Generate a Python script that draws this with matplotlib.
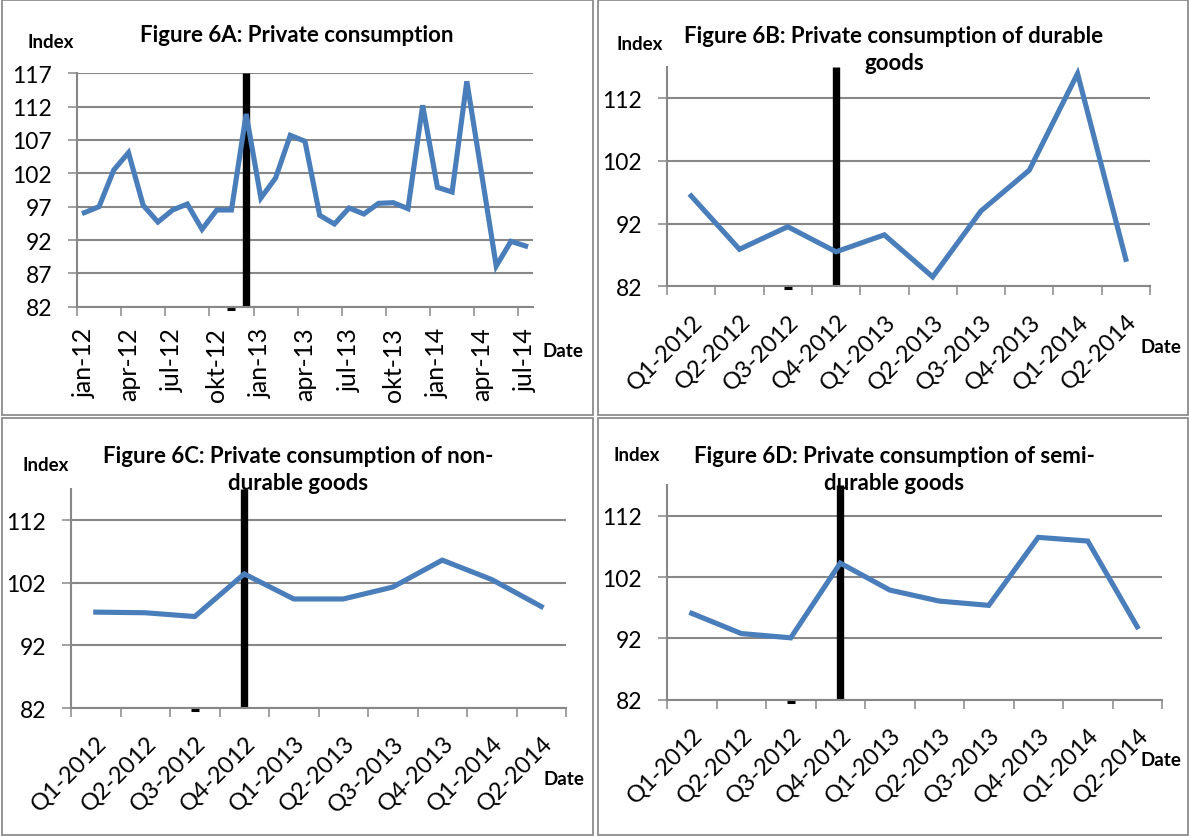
import matplotlib

matplotlib.use("Agg")
import matplotlib.pyplot as plt
from matplotlib.patches import Rectangle
from matplotlib.transforms import ScaledTranslation

plt.rcParams["font.family"] = ["Lato", "DejaVu Sans"]

W, H = 1189, 837
BLUE = "#4a7ebb"
GREY = "#878787"

months = [
    "jan-12", "feb-12", "mar-12", "apr-12", "maj-12", "jun-12", "jul-12", "aug-12",
    "sep-12", "okt-12", "nov-12", "dec-12", "jan-13", "feb-13", "mar-13", "apr-13",
    "maj-13", "jun-13", "jul-13", "aug-13", "sep-13", "okt-13", "nov-13", "dec-13",
    "jan-14", "feb-14", "mar-14", "apr-14", "maj-14", "jun-14", "jul-14",
]
private_consumption = [
    96.1, 97.0, 102.5, 105.1, 97.2, 94.7, 96.5, 97.4, 93.6, 96.5, 96.5, 110.9,
    98.3, 101.3, 107.7, 106.8, 95.7, 94.4, 96.8, 95.9, 97.5, 97.6, 96.7, 112.2,
    99.9, 99.2, 115.8, 102.0, 88.1, 91.8, 91.1,
]

quarters = [
    "Q1-2012", "Q2-2012", "Q3-2012", "Q4-2012", "Q1-2013",
    "Q2-2013", "Q3-2013", "Q4-2013", "Q1-2014", "Q2-2014",
]
durable = [96.4, 87.9, 91.5, 87.5, 90.2, 83.5, 94.0, 100.5, 115.9, 86.3]
non_durable = [97.3, 97.2, 96.6, 103.4, 99.4, 99.4, 101.3, 105.6, 102.5, 98.2]
semi_durable = [96.1, 92.8, 92.1, 104.3, 99.9, 98.1, 97.4, 108.5, 107.9, 93.9]

monthly_yticks = [82, 87, 92, 97, 102, 107, 112, 117]
quarterly_yticks = [82, 92, 102, 112]
y_range = (82, 117)

monthly_break = "dec-12"
quarterly_break = "Q4-2012"


def px_box(x0, y0, x1, y1):
    return [x0 / W, 1 - y1 / H, (x1 - x0) / W, (y1 - y0) / H]


def fig_text(fig, x, y, s, **kw):
    fig.text(x / W, 1 - y / H, s, **kw)


def draw_panel(fig, box, labels, values, yticks, label_step, tick_step, break_label, rotation):
    ax = fig.add_axes(px_box(*box))
    n = len(labels)
    xs = list(range(n))
    ax.set_xlim(-0.5, n - 0.5)
    ax.set_ylim(*y_range)

    ax.set_yticks(yticks)
    ax.yaxis.grid(True, color=GREY, linewidth=1.5)
    ax.set_axisbelow(True)
    for side in ("top", "right"):
        ax.spines[side].set_visible(False)
    for side in ("left", "bottom"):
        ax.spines[side].set_color(GREY)
        ax.spines[side].set_linewidth(1.5)
    ax.tick_params(axis="y", length=6.5, width=1.1, color=GREY, pad=11.5, labelsize=16.5)

    ax.set_xticks(xs[::label_step])
    ax.set_xticklabels(labels[::label_step])
    bounds = [i - 0.5 for i in range(0, n + 1, tick_step) if tick_step == 1 or i < n]
    ax.set_xticks(bounds, minor=True)
    ax.tick_params(axis="x", which="minor", length=6.5, width=1.1, color=GREY)
    if rotation == 90:
        ax.tick_params(axis="x", which="major", length=0, pad=14.5, labelsize=18, labelrotation=90)
    else:
        ax.tick_params(axis="x", which="major", length=0, pad=17, labelsize=17)
        for lbl in ax.get_xticklabels():
            lbl.set_rotation(45)
            lbl.set_ha("right")
            lbl.set_va("top")
            lbl.set_rotation_mode("anchor")

    b = labels.index(break_label)
    ax.plot([b, b], list(y_range), color="black", linewidth=5.3, solid_capstyle="butt", zorder=2)
    ax.plot(xs, values, color=BLUE, linewidth=3.7, solid_joinstyle="miter", zorder=3)

    # small stray dash under the axis, one category before the break
    off = ScaledTranslation(0, -2 / 100, fig.dpi_scale_trans)
    ax.plot([b - 1], [y_range[0]], marker="_", markersize=5.5, markeredgewidth=2.2,
            color="black", transform=ax.transData + off, clip_on=False, zorder=4)
    return ax


fig = plt.figure(figsize=(W / 100, H / 100), dpi=100)

# chart frames
for x0, y0, x1, y1 in [(2, 0.5, 593, 416), (598, 0.5, 1188, 416), (2, 419, 593, 836), (598, 419, 1188, 836)]:
    fig.patches.append(Rectangle((x0 / W, 1 - y1 / H), (x1 - x0) / W, (y1 - y0) / H,
                                 transform=fig.transFigure, fill=False, edgecolor="#8c8c8c", linewidth=1.3))

draw_panel(fig, (77, 74.3, 533, 307.7), months, private_consumption, monthly_yticks, 3, 3, monthly_break, 90)
draw_panel(fig, (667, 67.7, 1150, 287.3), quarters, durable, quarterly_yticks, 1, 1, quarterly_break, 45)
draw_panel(fig, (71, 489.7, 566, 709), quarters, non_durable, quarterly_yticks, 1, 1, quarterly_break, 45)
draw_panel(fig, (667, 486.3, 1162, 700.7), quarters, semi_durable, quarterly_yticks, 1, 1, quarterly_break, 45)

bold = dict(fontweight="bold", ha="center", va="center")
fig_text(fig, 297, 35, "Figure 6A: Private consumption", fontsize=16, **bold)
fig_text(fig, 894, 50, "Figure 6B: Private consumption of durable\ngoods", fontsize=16, linespacing=1.4, **bold)
fig_text(fig, 298, 470, "Figure 6C: Private consumption of non-\ndurable goods", fontsize=16, linespacing=1.4, **bold)
fig_text(fig, 894, 470, "Figure 6D: Private consumption of semi-\ndurable goods", fontsize=16, linespacing=1.4, **bold)

for x, y in [(51, 43), (640, 45), (46, 466), (637, 456)]:
    fig_text(fig, x, y, "Index", fontsize=13.5, **bold)
for x, y in [(563, 352), (1161, 348), (564, 780), (1161, 761)]:
    fig_text(fig, x, y, "Date", fontsize=13.5, **bold)

fig.savefig("out.png", dpi=100)
